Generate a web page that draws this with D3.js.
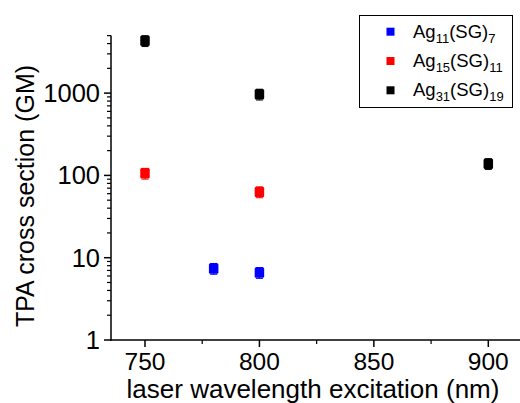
<!DOCTYPE html>
<html>
<head>
<meta charset="utf-8">
<script src="https://cdn.jsdelivr.net/npm/d3@7"></script>
<style>
  body { margin: 0; background: #fff; }
  svg { display: block; font-family: "Liberation Sans", Arial, sans-serif; }
</style>
</head>
<body>
<svg id="chart" width="520" height="403"></svg>
<script>
// ---- data ----
const seriesNames = ["Ag11(SG)7", "Ag15(SG)11", "Ag31(SG)19"];
const seriesSubs = [["11", "7"], ["15", "11"], ["31", "19"]];
const seriesColors = ["#0000ff", "#ff0000", "#000000"];
const blueX = [780, 800];
const blueY = [7.4, 6.6];
const redX = [750, 800];
const redY = [106, 63];
const blackX = [750, 800, 900];
const blackY = [4330, 970, 139];
const relError = 0.15;
const xTicks = [750, 800, 850, 900];
const xMinorTicks = [775, 825, 875];
const yTicks = [1, 10, 100, 1000];

const svg = d3.select("#chart");
const x = d3.scaleLinear().domain([750, 900]).range([145, 488.3]);
const y = d3.scaleLog().domain([1, 5000]).range([340, 35.6]);
const x0 = 111, x1 = 522, yBottom = 340, yTop = 35.6;

// y minor ticks
const yMinor = [];
for (let d = 1; d <= 1000; d *= 10) for (let k = 2; k <= 9; k++) if (d * k <= 5000) yMinor.push(d * k);

const axisW = 1.5;
const g = svg.append("g");
g.append("line").attr("x1", x0).attr("x2", x0).attr("y1", yTop).attr("y2", yBottom + 0.75)
  .attr("stroke", "#000").attr("stroke-width", axisW);
g.append("line").attr("x1", x0 - 0.75).attr("x2", x1).attr("y1", yBottom).attr("y2", yBottom)
  .attr("stroke", "#000").attr("stroke-width", axisW);

// y ticks
g.selectAll(".ymaj").data(yTicks).enter().append("line")
  .attr("x1", x0).attr("x2", x0 - 7).attr("y1", d => y(d)).attr("y2", d => y(d))
  .attr("stroke", "#000").attr("stroke-width", axisW);
g.selectAll(".ymin").data(yMinor).enter().append("line")
  .attr("x1", x0).attr("x2", x0 - 4).attr("y1", d => y(d)).attr("y2", d => y(d))
  .attr("stroke", "#000").attr("stroke-width", 1.2);
g.selectAll(".ylab").data(yTicks).enter().append("text")
  .attr("x", 100).attr("y", d => y(d) + 9).attr("text-anchor", "end")
  .attr("font-size", 25.5).attr("fill", "#000").text(d => d);

// x ticks
g.selectAll(".xmaj").data(xTicks).enter().append("line")
  .attr("x1", d => x(d)).attr("x2", d => x(d)).attr("y1", yBottom).attr("y2", yBottom + 7)
  .attr("stroke", "#000").attr("stroke-width", axisW);
g.selectAll(".xmin").data(xMinorTicks).enter().append("line")
  .attr("x1", d => x(d)).attr("x2", d => x(d)).attr("y1", yBottom).attr("y2", yBottom + 4)
  .attr("stroke", "#000").attr("stroke-width", 1.2);
g.selectAll(".xlab").data(xTicks).enter().append("text")
  .attr("x", d => x(d)).attr("y", 369.5).attr("text-anchor", "middle")
  .attr("font-size", 24.5).attr("fill", "#000").text(d => d);

// axis titles
svg.append("text").attr("x", 313).attr("y", 397.6).attr("text-anchor", "middle")
  .attr("font-size", 26).attr("fill", "#000").text("laser wavelength excitation (nm)");
svg.append("text").attr("transform", "translate(34,196) rotate(-90)").attr("text-anchor", "middle")
  .attr("font-size", 25).attr("fill", "#000").text("TPA cross section (GM)");

// data
const series = [
  { xs: blueX, ys: blueY, color: seriesColors[0] },
  { xs: redX, ys: redY, color: seriesColors[1] },
  { xs: blackX, ys: blackY, color: seriesColors[2] }
];
const ms = 9.5;
series.forEach(s => {
  const pts = s.xs.map((xv, i) => ({ x: xv, y: s.ys[i] }));
  const pg = svg.append("g");
  pg.selectAll(".eb").data(pts).enter().append("line")
    .attr("x1", d => x(d.x)).attr("x2", d => x(d.x))
    .attr("y1", d => y(d.y * (1 + relError))).attr("y2", d => y(d.y * (1 - relError)))
    .attr("stroke", s.color).attr("stroke-width", 1);
  pg.selectAll(".cap").data(pts).enter().append("line")
    .attr("x1", d => x(d.x) - 3.5).attr("x2", d => x(d.x) + 3.5)
    .attr("y1", d => y(d.y * (1 - relError))).attr("y2", d => y(d.y * (1 - relError)))
    .attr("stroke", s.color).attr("stroke-width", 1);
  pg.selectAll(".capu").data(pts).enter().append("line")
    .attr("x1", d => x(d.x) - 3.5).attr("x2", d => x(d.x) + 3.5)
    .attr("y1", d => y(d.y * (1 + relError))).attr("y2", d => y(d.y * (1 + relError)))
    .attr("stroke", s.color).attr("stroke-width", 1);
  pg.selectAll("rect").data(pts).enter().append("rect")
    .attr("x", d => x(d.x) - ms / 2).attr("y", d => y(d.y) - ms / 2 - 0.5)
    .attr("width", ms).attr("height", ms + 1).attr("rx", 1.5)
    .attr("fill", s.color);
});

// legend
const lg = svg.append("g");
lg.append("rect").attr("x", 359.5).attr("y", 15.5).attr("width", 153).attr("height", 92)
  .attr("fill", "#fff").attr("stroke", "#000").attr("stroke-width", 1);
seriesNames.forEach((name, i) => {
  const cy = 31.7 + i * 29.3;
  lg.append("rect").attr("x", 386.5).attr("y", cy - 4).attr("width", 8).attr("height", 8)
    .attr("fill", seriesColors[i]);
  const t = lg.append("text").attr("x", 413).attr("y", cy + 6).attr("font-size", 18.5).attr("fill", "#000");
  t.append("tspan").text("Ag");
  t.append("tspan").attr("font-size", 13).attr("dy", 5).text(seriesSubs[i][0]);
  t.append("tspan").attr("dy", -5).text("(SG)");
  t.append("tspan").attr("font-size", 13).attr("dy", 5).text(seriesSubs[i][1]);
});
</script>
</body>
</html>
